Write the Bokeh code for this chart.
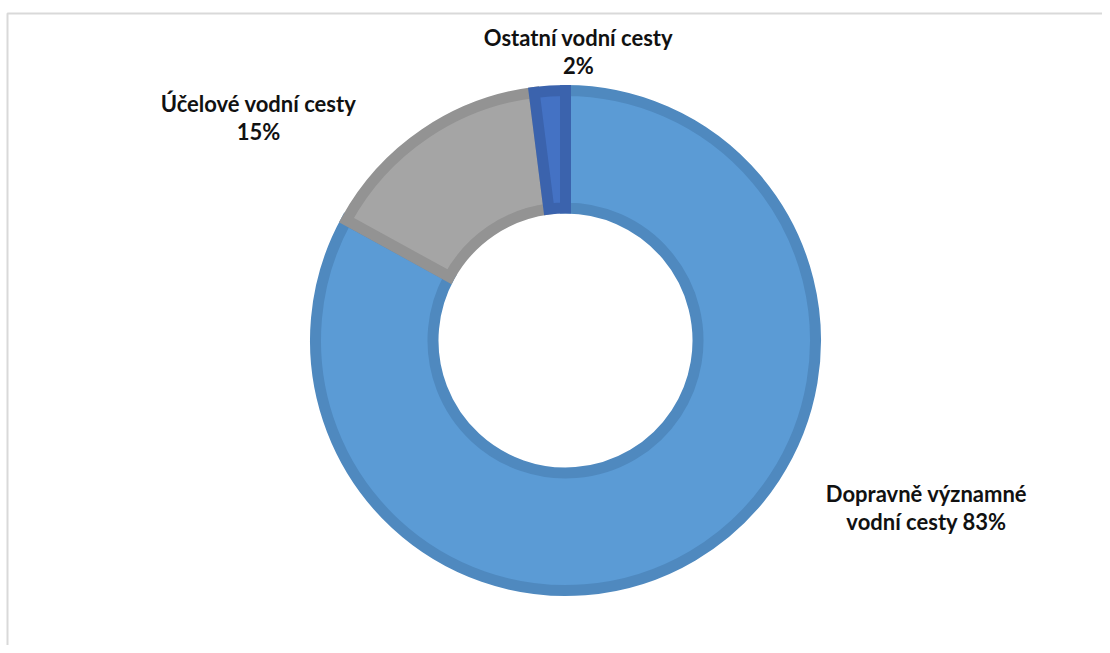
import math
from bokeh.plotting import figure
from bokeh.models import ColumnDataSource, Range1d
from bokeh.core.properties import value
from bokeh.embed import file_html
from bokeh.resources import INLINE

# ---- data ----
categories = ["Dopravně významné vodní cesty", "Účelové vodní cesty", "Ostatní vodní cesty"]
shares = [83, 15, 2]
label_texts = ["Dopravně významné\nvodní cesty 83%", "Účelové vodní cesty\n15%", "Ostatní vodní cesty\n2%"]

# ---- style / layout ----
fill_colors = ["#5B9BD5", "#A5A5A5", "#4472C4"]
line_colors = ["#4F89BF", "#939393", "#3B63AD"]
W, H = 1102, 645
cx, cy = 565, H - 340
r_out, r_in = 250, 132.5
label_xy = [(926, H - 507), (258, H - 117), (578, H - 51)]

total = float(sum(shares))
starts, ends = [], []
a = math.pi / 2
for v in shares:
    starts.append(a)
    a -= v / total * 2 * math.pi
    ends.append(a)

src = ColumnDataSource(dict(
    cat=categories, share=shares,
    start=starts, end=ends,
    fill=fill_colors, line=line_colors,
))

p = figure(width=W, height=H, output_backend="svg", toolbar_location=None,
           x_range=Range1d(0, W), y_range=Range1d(0, H), min_border=0)
p.axis.visible = False
p.grid.visible = False
p.outline_line_color = None
p.background_fill_color = "white"

# frame (top and left edges of the cropped chart area)
p.line(x=[7, 7, W], y=[0, H - 13, H - 13], line_color="#D9D9D9", line_width=2)

p.annular_wedge(x=cx, y=cy, inner_radius=r_in, outer_radius=r_out,
                start_angle="end", end_angle="start", direction="anticlock",
                fill_color="fill", line_color="line", line_width=11,
                line_join="miter", source=src)

lsrc = ColumnDataSource(dict(x=[xy[0] for xy in label_xy], y=[xy[1] for xy in label_xy],
                             t=label_texts))
p.text(x="x", y="y", text="t", source=lsrc, text_align="center", text_baseline="middle",
       text_font=value("Lato"), text_font_style="bold", text_font_size="22px",
       text_color="#111111", text_line_height=1.05)

open("out.html", "w").write(file_html(p, INLINE))
